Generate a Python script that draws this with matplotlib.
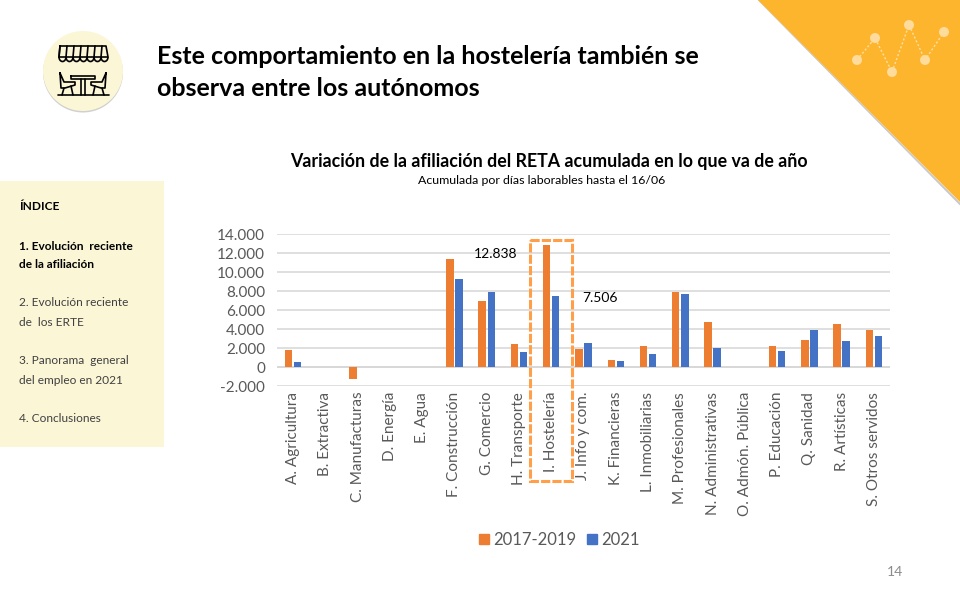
import matplotlib
matplotlib.use("Agg")
import matplotlib.pyplot as plt
from matplotlib.patches import Polygon, Circle, Rectangle, Arc
from matplotlib.lines import Line2D
import numpy as np

plt.rcParams['font.family'] = ['Lato', 'DejaVu Sans']

categories = ["A. Agricultura", "B. Extractiva", "C. Manufacturas", "D. Energía", "E. Agua",
              "F. Construcción", "G. Comercio", "H. Transporte", "I. Hostelería", "J. Info y com.",
              "K. Financieras", "L. Inmobiliarias", "M. Profesionales", "N. Administrativas",
              "O. Admón. Pública", "P. Educación", "Q. Sanidad", "R. Artísticas", "S. Otros servidos"]
v_2017_2019 = [1850, 0, -1250, 0, 0, 11400, 7000, 2450, 12838, 1950, 750, 2250, 7950, 4750, 0, 2250, 2900, 4550, 3950]
v_2021 = [560, 0, 0, 0, 0, 9300, 7950, 1650, 7506, 2600, 650, 1400, 7750, 2050, 0, 1700, 3950, 2750, 3300]
y_ticks = [-2000, 0, 2000, 4000, 6000, 8000, 10000, 12000, 14000]
y_labels = ["-2.000", "0", "2.000", "4.000", "6.000", "8.000", "10.000", "12.000", "14.000"]

ORANGE = "#ED7D31"
BLUE = "#4472C4"
YELLOW = "#FEB52E"
CREAM = "#FBF6D6"

fig = plt.figure(figsize=(9.6, 6), dpi=100)

# slide background, in pixel coordinates
bg = fig.add_axes([0, 0, 1, 1], zorder=0)
bg.set_xlim(0, 960)
bg.set_ylim(600, 0)
bg.axis("off")

bg.add_patch(Polygon([(758, 0), (960, 203), (960, 205)], color="#C8C8C8", lw=0.5))
bg.add_patch(Polygon([(758, 0), (960, 0), (960, 202)], color=YELLOW, lw=0))
pts = [(857, 60), (875, 38), (892, 72), (909, 25), (925, 60), (944, 32)]
bg.plot(*zip(*pts), color="#FFDFA0", lw=1, ls=(0, (1.5, 1.5)))
for p in pts:
    bg.add_patch(Circle(p, 5, color="#FFDB9C", lw=0, zorder=3))

# sidebar
bg.add_patch(Rectangle((0, 181), 164, 266, color=CREAM, lw=0))
bg.text(19, 207, "ÍNDICE", fontsize=8.6, fontweight="bold", va="center")
bg.text(19, 246, "1. Evolución  reciente", fontsize=8.6, fontweight="bold", va="center")
bg.text(19, 265, "de la afiliación", fontsize=8.6, fontweight="bold", va="center")
for y, s in [(303, "2. Evolución reciente"), (323, "de  los ERTE"), (361, "3. Panorama  general"),
             (381, "del empleo en 2021"), (419, "4. Conclusiones")]:
    bg.text(19, y, s, fontsize=8.6, color="#404040", va="center")

# icon
bg.add_patch(Circle((83, 72.5), 40, color="#D0D0D0", lw=0))
bg.add_patch(Circle((83, 71), 40, color=CREAM, lw=0))
ic = dict(color="black", lw=1.2, solid_capstyle="round")
bg.plot([60, 106, 108, 59, 60], [46, 46, 57, 57, 46], **ic)
for x in np.arange(59, 108, 7):
    bg.add_patch(Arc((x + 3.5, 57), 7, 9, theta1=0, theta2=180, color="black", lw=1.2))
    bg.plot([x + 1, x], [46, 57], **ic)
bg.plot([58, 109], [95, 95], **ic)
bg.plot([71, 95, 95, 71, 71], [76, 76, 79, 79, 76], **ic)
bg.plot([81, 81], [79, 95], **ic)
bg.plot([85, 85], [79, 95], **ic)
# chairs
bg.plot([60, 61, 65, 75, 75, 64, 60, 60], [73, 88, 88, 85, 82, 82, 73, 73], **ic)
bg.plot([64, 62], [88, 95], **ic)
bg.plot([71, 73], [86, 95], **ic)
bg.plot([106, 105, 101, 91, 91, 102, 106, 106], [73, 88, 88, 85, 82, 82, 73, 73], **ic)
bg.plot([102, 104], [88, 95], **ic)
bg.plot([95, 93], [86, 95], **ic)

# titles
bg.text(157, 57, "Este comportamiento en la hostelería también se", fontsize=18, fontweight="bold", va="center")
bg.text(157, 88, "observa entre los autónomos", fontsize=18, fontweight="bold", va="center")
bg.text(548.5, 161, "Variación de la afiliación del RETA acumulada en lo que va de año", fontsize=12.8,
        fontweight="bold", ha="center", va="center")
bg.text(542, 180, "Acumulada por días laborables hasta el 16/06", fontsize=8.9, ha="center", va="center")
bg.text(895, 572, "14", fontsize=10, color="#8C8C8C", ha="center", va="center")

# chart
ax = fig.add_axes([277 / 960, (600 - 386.3) / 600, 613 / 960, 152 / 600], zorder=1)
ax.patch.set_alpha(0)
x = np.arange(len(categories))
ax.bar(x - 0.14, v_2017_2019, 0.23, color=ORANGE, zorder=3)
ax.bar(x + 0.14, v_2021, 0.23, color=BLUE, zorder=3)
ax.set_xlim(-0.5, len(categories) - 0.5)
ax.set_ylim(-2000, 14000)
ax.set_yticks(y_ticks)
ax.set_yticklabels(y_labels, fontsize=11, color="#595959")
ax.set_xticks(x)
ax.set_xticklabels(categories, rotation=90, fontsize=11, color="#595959")
ax.tick_params(length=0, axis="both")
ax.tick_params(axis="y", pad=8.5)
ax.tick_params(axis="x", pad=4)
ax.grid(axis="y", color="#D9D9D9", lw=1.2, zorder=0)
for s in ax.spines.values():
    s.set_visible(False)
ax.axhline(0, color="#D0D0D0", lw=1.2, zorder=1)

# annotations on top
top = fig.add_axes([0, 0, 1, 1], zorder=2)
top.set_xlim(0, 960)
top.set_ylim(600, 0)
top.axis("off")
top.add_patch(Rectangle((530, 240), 42, 241, fill=False, ec="#FF9F4A", lw=2.2, ls=(0, (3, 0.7))))
top.text(496, 254, "12.838", fontsize=10, ha="center", va="center", color="black")
top.text(600, 298, "7.506", fontsize=10, ha="center", va="center", color="black")

handles = [Line2D([], [], marker="s", ls="", color=ORANGE, ms=7.5),
           Line2D([], [], marker="s", ls="", color=BLUE, ms=7.5)]
top.legend(handles, ["2017-2019", "2021"], loc="center", bbox_to_anchor=(559 / 960, 1 - 540 / 600), ncol=2, frameon=False,
           prop={"size": 12}, labelcolor="#595959", handlelength=0.7, handletextpad=0.2, columnspacing=0.6)

fig.savefig("out.png", dpi=100)
